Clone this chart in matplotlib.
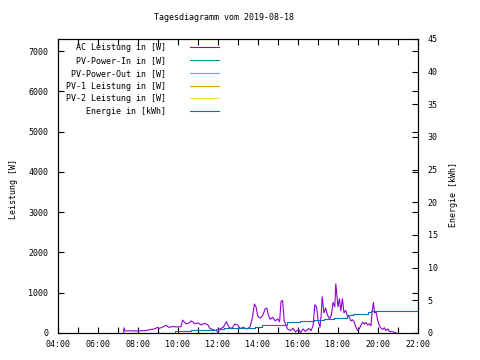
import matplotlib
matplotlib.use("Agg")
import matplotlib.pyplot as plt
from matplotlib.ticker import FixedLocator, FuncFormatter

plt.rcParams['font.family'] = ['DejaVu Sans Mono']
plt.rcParams['font.size'] = 6

# AC Leistung (hour of day, watts)
ac_hours = [7.28, 7.30, 7.35, 7.55, 7.88, 8.39, 8.55, 8.81, 8.98, 9.05, 9.23, 9.40, 9.55,
            9.73, 9.98, 10.15, 10.23, 10.40, 10.57, 10.65, 10.75, 10.83, 11.0, 11.16,
            11.33, 11.5, 11.58, 11.75, 11.92, 12.0, 12.09, 12.26, 12.42, 12.54, 12.68,
            12.84, 12.98, 13.1, 13.27, 13.43, 13.6, 13.72, 13.82, 13.9, 13.99, 14.1,
            14.22, 14.36, 14.44, 14.52, 14.61, 14.74, 14.86, 14.98, 15.08, 15.15, 15.23,
            15.31, 15.41, 15.48, 15.62, 15.75, 15.87, 16.04, 16.12, 16.26, 16.37, 16.54,
            16.66, 16.76, 16.84, 16.93, 17.01, 17.1, 17.16, 17.21, 17.3, 17.38, 17.47,
            17.58, 17.67, 17.75, 17.84, 17.89, 17.94, 18.0, 18.07, 18.14, 18.22, 18.3,
            18.39, 18.47, 18.56, 18.64, 18.72, 18.81, 18.89, 18.98, 19.06, 19.14, 19.23,
            19.31, 19.4, 19.48, 19.56, 19.65, 19.7, 19.77, 19.83, 19.9, 19.98, 20.07,
            20.15, 20.24, 20.32, 20.4, 20.49, 20.57, 20.74, 20.88, 20.9]
ac_watts = [0, 130, 50, 55, 50, 60, 80, 100, 140, 110, 150, 190, 140,
            160, 150, 160, 320, 230, 250, 300, 270, 230, 250, 200,
            240, 200, 120, 80, 60, 5, 100, 140, 280, 150, 110,
            220, 200, 110, 140, 100, 150, 380, 720, 650, 420, 370,
            420, 600, 620, 440, 340, 390, 300, 350, 280, 780, 810,
            300, 180, 100, 60, 120, 30, 90, 10, 100, 40, 110,
            60, 200, 700, 650, 300, 140, 450, 900, 500, 620, 450,
            350, 450, 760, 650, 1220, 950, 650, 850, 550, 850, 500,
            560, 420, 400, 300, 330, 270, 150, 60, 100, 180, 270,
            220, 260, 200, 230, 180, 500, 760, 500, 520, 330, 180,
            120, 90, 130, 60, 100, 40, 30, 10, 0]

# Energie (hour of day, kWh)
en_hours = [8.69, 9.85, 10.66, 11.16, 11.92, 12.32, 13.08, 13.83, 14.19, 14.69, 15.45,
            16.1, 16.81, 17.3, 17.82, 18.47, 18.73, 19.48, 19.63, 22.0]
en_kwh = [0.05, 0.25, 0.4, 0.5, 0.67, 0.77, 0.83, 0.92, 1.18, 1.29, 1.69,
          1.85, 2.05, 2.2, 2.36, 2.71, 2.97, 3.22, 3.33, 3.33]

labels = ["AC Leistung in [W]", "PV-Power-In in [W]", "PV-Power-Out in [W]",
          "PV-1 Leistung in [W]", "PV-2 Leistung in [W]", "Energie in [kWh]"]
colors = ["#9400D3", "#009E73", "#56B4E9", "#E69F00", "#F0E442", "#0072B2"]

fig = plt.figure(figsize=(4.8, 3.6), dpi=100)
ax = fig.add_axes([58 / 480, 27 / 360, 360 / 480, 294 / 360])
ax2 = ax.twinx()

h1, = ax.plot(ac_hours, ac_watts, color=colors[0], lw=0.8, label=labels[0])
handles = [h1]
for lab, col in zip(labels[1:5], colors[1:5]):
    h, = ax.plot([], [], color=col, lw=0.8, label=lab)
    handles.append(h)
h6, = ax2.step(en_hours, en_kwh, where='post', color=colors[5], lw=0.8, label=labels[5])
handles.append(h6)

ax.set_xlim(4, 22)
ax.set_ylim(0, 7300)
ax2.set_ylim(0, 45)

ax.xaxis.set_major_locator(FixedLocator(range(4, 23, 2)))
ax.xaxis.set_minor_locator(FixedLocator(range(4, 23, 1)))
ax.xaxis.set_major_formatter(FuncFormatter(lambda v, p: "%02d:00" % int(round(v))))
ax.set_yticks(range(0, 7001, 1000))
ax2.set_yticks(range(0, 46, 5))

ax.tick_params(axis='x', which='both', direction='in', top=True, length=4, width=0.8, pad=5)
ax.tick_params(axis='y', direction='in', right=True, labelright=False, length=4, width=0.8, pad=7)
ax2.tick_params(axis='y', direction='in', length=4, width=0.8, pad=7)

for a in (ax, ax2):
    for s in a.spines.values():
        s.set_linewidth(0.8)

ax.set_ylabel("Leistung [W]")
ax.yaxis.set_label_coords(-0.111, 0.49)
ax2.set_ylabel("Energie [kWh]")
ax2.yaxis.set_label_coords(1.086, 0.47)

fig.text(224 / 480, 1 - 18 / 360, "Tagesdiagramm vom 2019-08-18", ha='center', va='center')

ax2.legend(handles=handles, labels=labels, loc='upper left', bbox_to_anchor=(0.023, 0.985),
           frameon=False, markerfirst=False, handlelength=3.4, handletextpad=2.9,
           labelspacing=0.45, borderpad=0, borderaxespad=0)

fig.savefig("out.png", dpi=100)
